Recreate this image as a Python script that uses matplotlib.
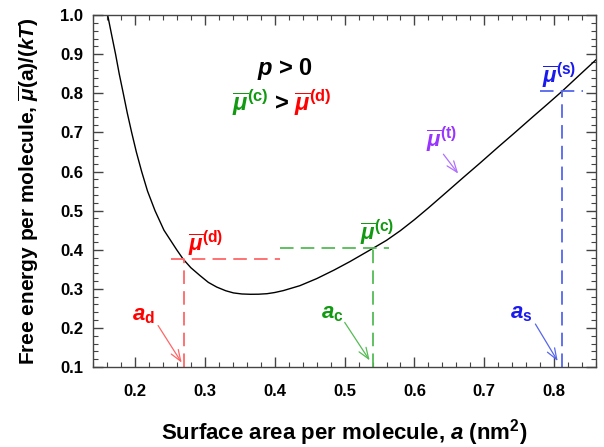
import matplotlib
matplotlib.use("Agg")
import matplotlib.pyplot as plt
from matplotlib.ticker import MultipleLocator

plt.rcParams['font.family'] = ['Liberation Sans', 'DejaVu Sans']
plt.rcParams['font.weight'] = 'bold'
plt.rcParams['axes.labelweight'] = 'bold'
plt.rcParams['mathtext.fontset'] = 'custom'
plt.rcParams['mathtext.rm'] = 'Liberation Sans:bold'
plt.rcParams['mathtext.it'] = 'Liberation Sans:bold:italic'
plt.rcParams['mathtext.bf'] = 'Liberation Sans:bold'

# free energy curve
area = [0.161, 0.1666, 0.1723, 0.1775, 0.1833, 0.189, 0.1953, 0.202, 0.2096, 0.218,
        0.2287, 0.2415, 0.2597, 0.269, 0.280, 0.293, 0.305, 0.317, 0.330, 0.341,
        0.353, 0.365, 0.377, 0.389, 0.400, 0.4125, 0.436, 0.460, 0.485, 0.508,
        0.541, 0.560, 0.580, 0.600, 0.620, 0.647, 0.670, 0.694, 0.720, 0.742,
        0.770, 0.790, 0.811, 0.835, 0.861]
mu = [1.000, 0.950, 0.900, 0.850, 0.800, 0.750, 0.700, 0.650, 0.600, 0.550,
      0.500, 0.450, 0.400, 0.376, 0.354, 0.334, 0.3165, 0.3045, 0.295, 0.2895,
      0.2868, 0.286, 0.2862, 0.2875, 0.2905, 0.2955, 0.308, 0.326, 0.348, 0.370,
      0.404, 0.424, 0.449, 0.477, 0.507, 0.549, 0.585, 0.622, 0.663, 0.697,
      0.741, 0.772, 0.805, 0.845, 0.888]

# coexistence points
a_d, mu_d = 0.270, 0.376
a_c, mu_c = 0.541, 0.404
a_s, mu_s = 0.811, 0.805
h_d = [0.251, 0.408]
h_c = [0.408, 0.564]
h_s = [0.779, 0.841]

red, green, blue, purple = '#ff0000', '#119911', '#1a1aee', '#9933ff'
lred, lgreen, lblue, lpurple = '#ff6666', '#55bb55', '#5566ee', '#b070ff'

fig = plt.figure(figsize=(6.04, 4.47), dpi=100)
ax = fig.add_axes([0.154, 0.179, 0.833, 0.787])

ax.plot(area, mu, color='black', lw=1.0)

dash = (0, (7.5, 4))
ax.plot(h_d, [mu_d, mu_d], color=lred, lw=1.3, ls=dash)
ax.plot([a_d, a_d], [0.1, mu_d], color=lred, lw=1.3, ls=dash)
ax.plot(h_c, [mu_c, mu_c], color=lgreen, lw=1.3, ls=dash)
ax.plot([a_c, a_c], [0.1, mu_c], color=lgreen, lw=1.3, ls=dash)
ax.plot(h_s, [mu_s, mu_s], color=lblue, lw=1.3, ls=dash)
ax.plot([a_s, a_s], [0.1, mu_s], color=lblue, lw=1.3, ls=dash)

mlab = r'$\overline{\mu}^{\mathrm{(%s)}}$'
fs = 16
ax.text(0.276, 0.399, mlab % 'd', color=red, fontsize=fs, va='baseline')
ax.text(0.522, 0.427, mlab % 'c', color=green, fontsize=fs, va='baseline')
ax.text(0.617, 0.665, mlab % 't', color=purple, fontsize=fs, va='baseline')
ax.text(0.782, 0.829, mlab % 's', color=blue, fontsize=fs, va='baseline')

ax.text(0.415, 0.847, r'$p$ > 0', color='black', fontsize=17, ha='center', va='baseline')
ax.text(0.391, 0.757, mlab % 'c', color=green, fontsize=17, ha='right', va='baseline')
ax.text(0.411, 0.757, '>', color='black', fontsize=17, ha='center', va='baseline')
ax.text(0.427, 0.757, mlab % 'd', color=red, fontsize=17, ha='left', va='baseline')

ax.text(0.196, 0.220, r'$a_{\mathrm{d}}$', color=red, fontsize=fs, va='baseline')
ax.text(0.466, 0.225, r'$a_{\mathrm{c}}$', color=green, fontsize=fs, va='baseline')
ax.text(0.737, 0.225, r'$a_{\mathrm{s}}$', color=blue, fontsize=fs, va='baseline')

arrows = [((0.231, 0.212), (0.269, 0.105), lred),
          ((0.498, 0.220), (0.538, 0.111), lgreen),
          ((0.771, 0.216), (0.807, 0.109), lblue),
          ((0.639, 0.650), (0.665, 0.589), lpurple)]
for start, end, c in arrows:
    ax.annotate('', xy=end, xytext=start,
                arrowprops=dict(arrowstyle='->,head_length=0.8,head_width=0.3',
                                color=c, lw=0.9))

ax.set_xlim(0.14, 0.86)
ax.set_ylim(0.1, 1.0)
ax.xaxis.set_major_locator(MultipleLocator(0.1))
ax.xaxis.set_minor_locator(MultipleLocator(0.02))
ax.yaxis.set_major_locator(MultipleLocator(0.1))
ax.yaxis.set_minor_locator(MultipleLocator(0.02))
ax.tick_params(which='both', direction='in', top=True, right=True, color='#444444')
ax.tick_params(which='major', length=7, width=1.0, labelsize=12)
ax.tick_params(which='minor', length=3.5, width=0.8)
ax.tick_params(axis='x', which='major', pad=12)
ax.tick_params(axis='y', which='major', pad=7)
for s in ax.spines.values():
    s.set_color('#444444')
    s.set_linewidth(1.0)

ax.set_xlabel(r'Surface area per molecule, $a$ (nm$^\mathrm{2}$)', fontsize=16, labelpad=13)
ax.set_ylabel(r'Free energy per molecule, $\overline{\mu}$(a)/($kT$)', fontsize=15, labelpad=14)

fig.savefig('out.png', dpi=100)
